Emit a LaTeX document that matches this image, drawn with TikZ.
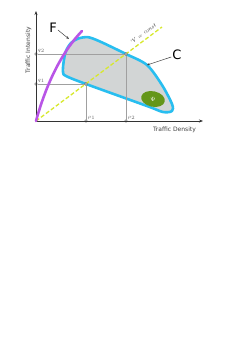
\documentclass[tikz,border=0pt]{standalone}
\usepackage{fontspec}
\setsansfont{DejaVu Sans}
\usetikzlibrary{arrows.meta,shapes.geometric}
\definecolor{fviolet}{RGB}{185,85,230}
\definecolor{ccyan}{RGB}{40,190,240}
\definecolor{cgray}{RGB}{210,213,213}
\definecolor{vyellow}{RGB}{215,232,45}
\definecolor{pgreen}{RGB}{100,150,25}
\definecolor{gridgray}{RGB}{160,160,160}
\tikzset{
  axis/.style={draw=black!80, line width=0.6pt, -{Stealth[length=4pt,width=3pt]}},
  gridline/.style={draw=gridgray, line width=0.5pt},
  dot/.style={circle, draw=black!70, fill=white, line width=0.4pt, inner sep=0pt, minimum size=2.6pt},
  tiny/.style={font=\fontsize{3}{3}\selectfont, text=black!60, inner sep=0.5pt},
  axlabel/.style={font=\sffamily\fontsize{6}{6}\selectfont, text=black!75, inner sep=0pt},
  biglabel/.style={font=\sffamily\fontsize{13}{13}\selectfont, inner sep=0pt},
  pointer/.style={draw=black!75, line width=0.5pt, -{Stealth[length=3pt,width=2.5pt]}}
}
\begin{document}
\begin{tikzpicture}[x=1pt,y=-1pt]
\useasboundingbox (0,0) rectangle (245,346);
% named points
\coordinate (O) at (36,121);
\coordinate (ytop) at (36,11);
\coordinate (xend) at (203,121);
% grid
\node[dot] (q2) at (36,54) {};
\node[dot] (q1) at (36,84) {};
\node[dot] (p1) at (86,121) {};
\node[dot] (p2) at (126,121) {};
% blob C
\path[fill=cgray, draw=ccyan, line width=2.6pt, line join=round]
  plot[smooth cycle, tension=0.5] coordinates {
  (63,72) (63.6,62) (66,51) (71,43) (78,38.6) (88,37.2) (100,41.5) (126,54) (147,65)
  (162,85) (172,104) (172,111) (163,112) (147,106) (86,84) (66,76)};
\node[dot] (A) at (86,84) {};
\node[dot] (B) at (126,54) {};
\draw[gridline] (q2) -- (B);
\draw[gridline] (q1) -- (A);
\draw[gridline] (A) -- (p1);
\draw[gridline] (B) -- (p2);
% axes
\draw[axis] (O) -- (ytop);
\draw[axis] (O) -- (xend);
% dashed V = const
\coordinate (vend) at (162,27);
\draw[vyellow, line width=1.3pt, dash pattern=on 4pt off 2.2pt] (O) -- (vend);
\node[dot] at (86,84) {};
\node[dot] at (126,54) {};
% curve F
\draw[fviolet, line width=2.6pt, line cap=round]
  (O) .. controls (44,92) and (58,56) .. (82,31);
% ellipse Psi
\node[ellipse, fill=pgreen, minimum width=24pt, minimum height=15.5pt, rotate=-12, inner sep=0pt] (psi) at (153,99) {};
\node[text=white, font=\fontsize{6}{6}\selectfont] at (psi) {$\Psi$};
% tiny labels
\node[tiny, anchor=south west] at (37,53.5) {$q_2$};
\node[tiny, anchor=south west] at (37,83.5) {$q_1$};
\node[tiny, anchor=south west] at (87,120.5) {$\rho_1$};
\node[tiny, anchor=south west] at (127,120.5) {$\rho_2$};
% labels
\node[axlabel, rotate=90] (ti) at (28.5,50) {Traffic Intensity};
\node[axlabel] (td) at (174.5,130) {Traffic Density};
\node[font=\itshape\fontsize{5.5}{5.5}\selectfont, text=black!85, rotate=36.8, inner sep=0pt] (vc) at (142.8,34) {’V = const};
\node[biglabel] (F) at (53,28) {F};
\node[biglabel] (C) at (177,55) {C};
\coordinate (Ftip) at (69,39);
\coordinate (Ctip) at (147,65);
\draw[pointer] (F.east) ++(1,2) -- (Ftip);
\draw[pointer] (C.west) ++(-1,2) -- (Ctip);
\end{tikzpicture}
\end{document}
